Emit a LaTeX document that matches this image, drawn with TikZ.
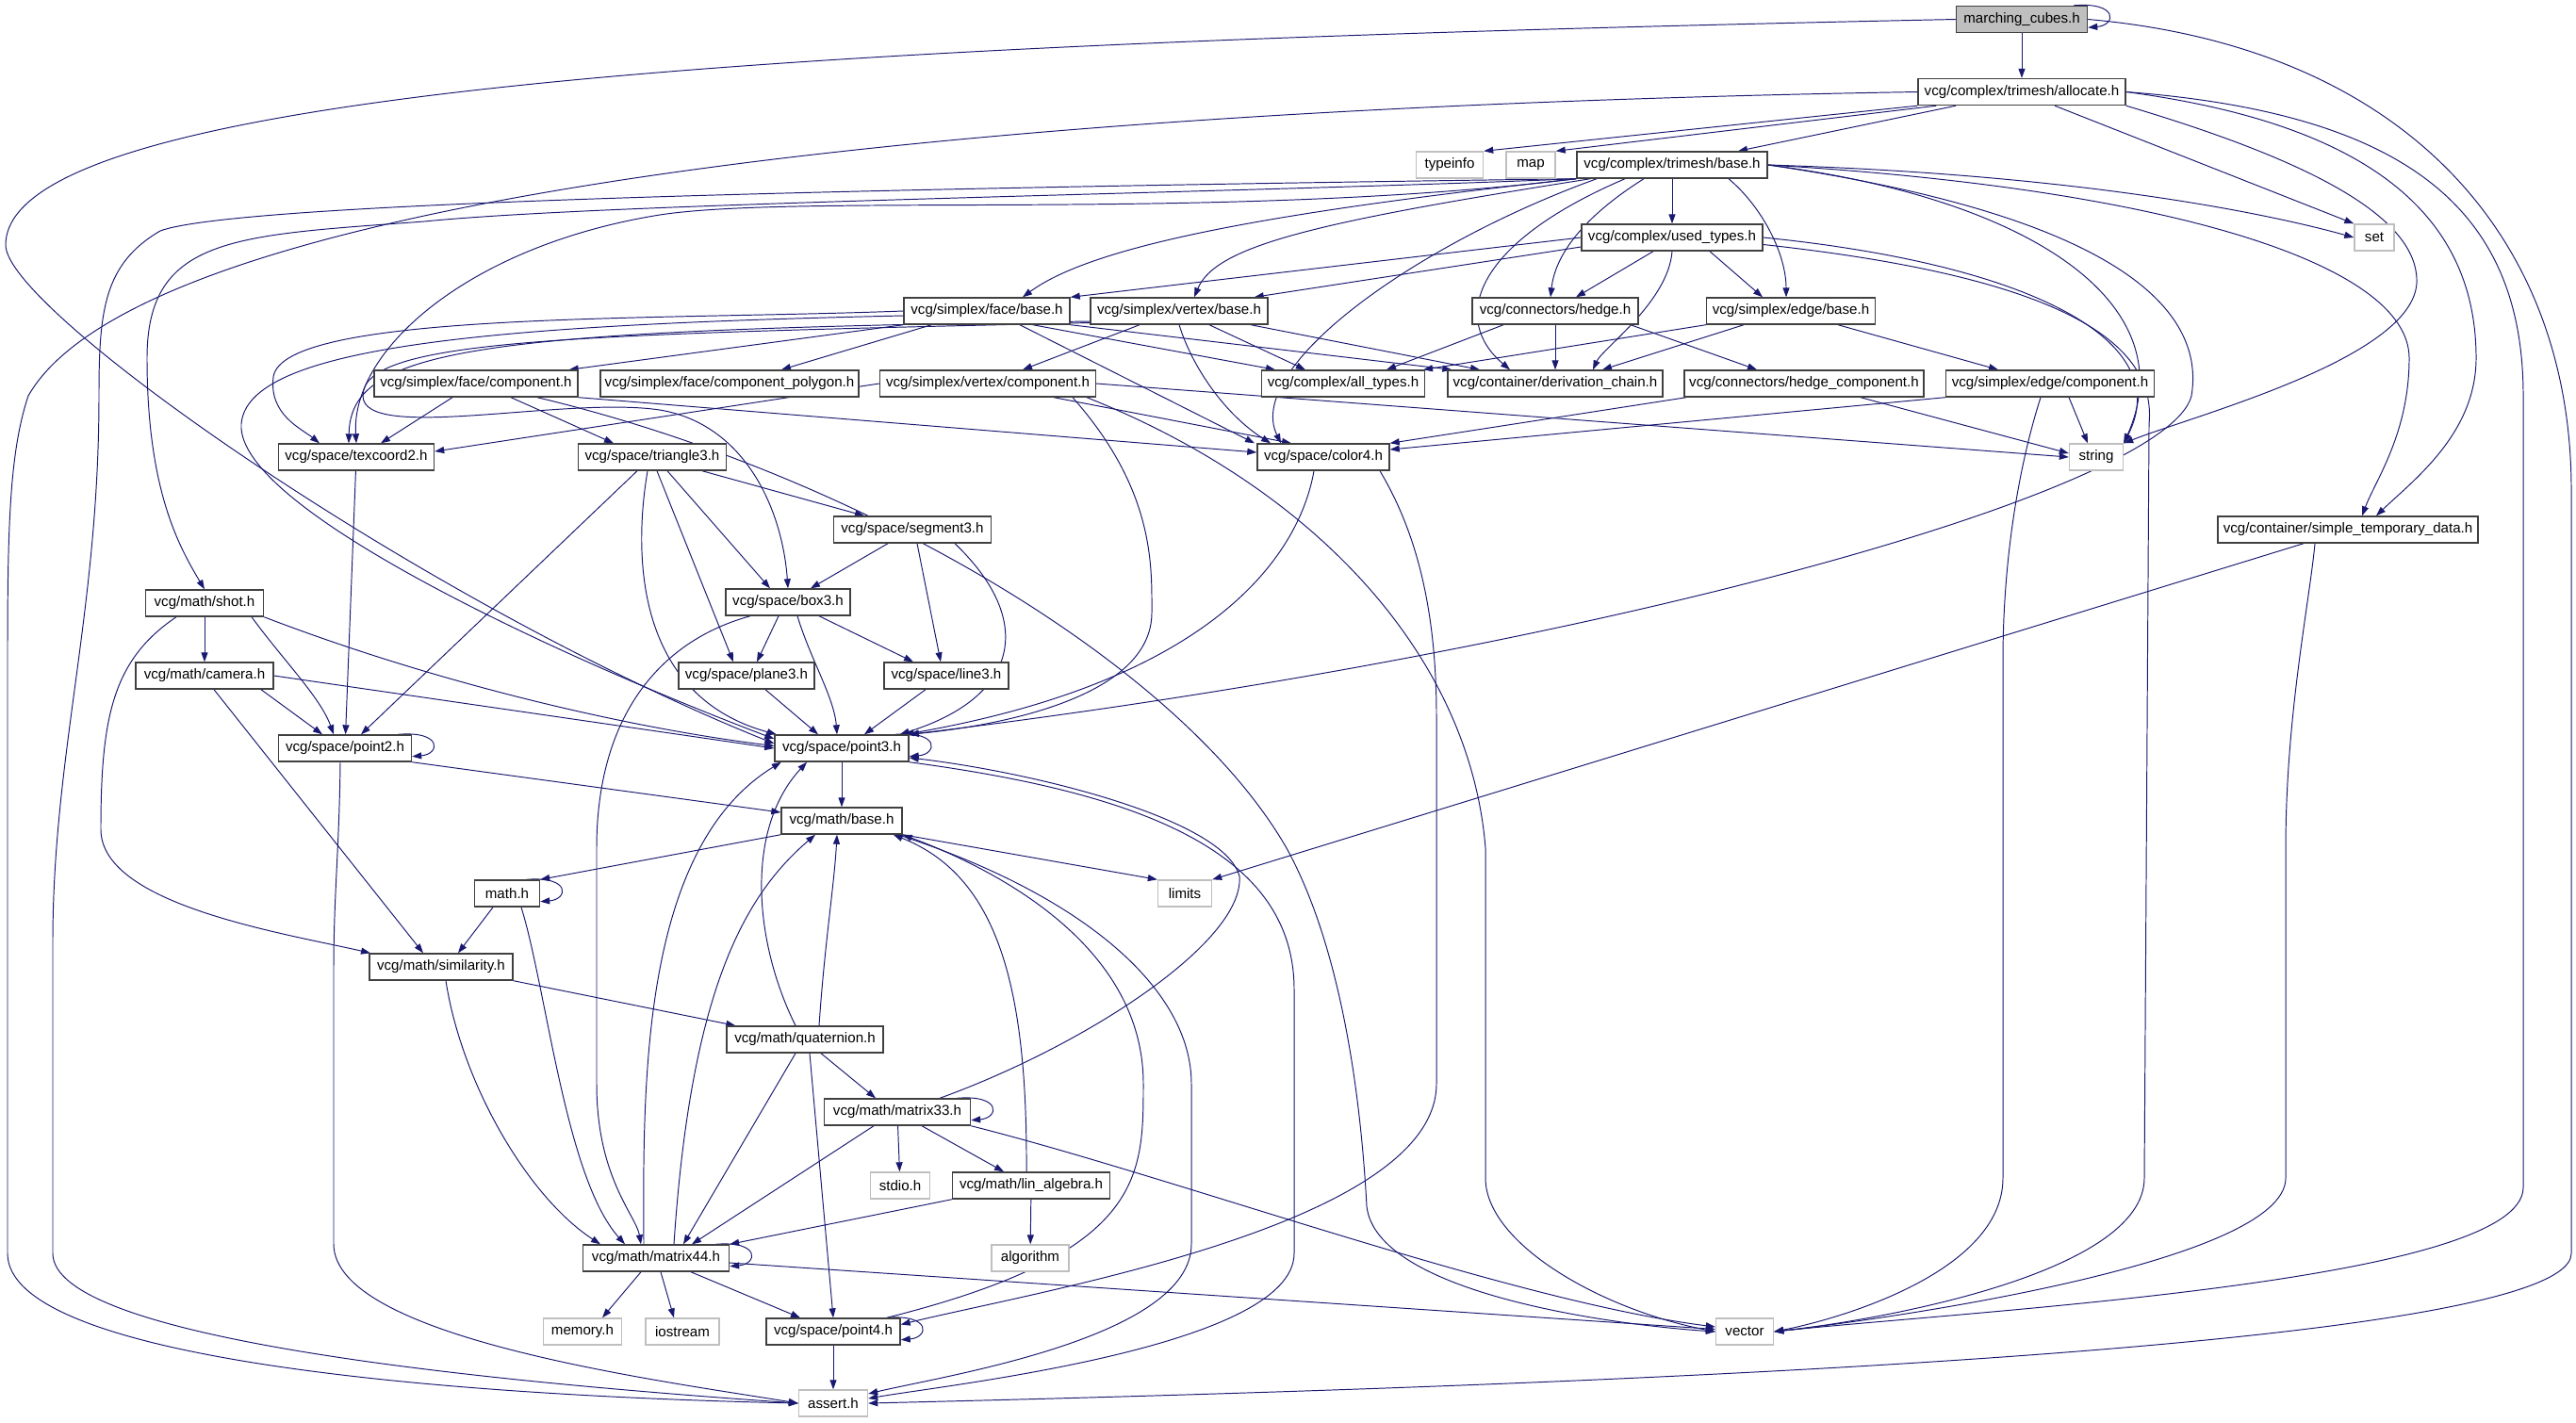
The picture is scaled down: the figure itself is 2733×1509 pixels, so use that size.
\documentclass[tikz,border=0pt]{standalone}
\usepackage{fontspec}
\setmainfont{Liberation Sans}
\usetikzlibrary{arrows.meta,backgrounds,calc}
\definecolor{edgenavy}{HTML}{191970}
\definecolor{boxgray}{HTML}{404040}
\definecolor{sysgray}{HTML}{BFBFBF}
\newcommand{\selfloop}[1]{\draw[inc] ([xshift=-0.3cm]#1.north east) .. controls +(0.95cm,0.08cm) and +(0.6cm,0.05cm) .. ([yshift=0.12cm]#1.south east);}

\begin{document}
\begin{tikzpicture}[x=0.02cm, y=-0.02cm,
  every node/.style={font=\fontsize{8.6}{10}\selectfont},
  hdr/.style={draw=boxgray, line width=0.8pt, fill=white, minimum height=0.56cm, inner sep=1pt},
  sys/.style={hdr, draw=sysgray},
  root/.style={hdr, fill=sysgray},
  bw/.style={minimum width=#1*0.02cm},
  inc/.style={draw=edgenavy, line width=0.55pt, -{Triangle[length=0.2cm,width=0.14cm]}}
]
  \useasboundingbox (0,0) rectangle (2733,1509);

  % Headers, top rows
  \node[root, bw=139] (mcubes)    at (2145,20.5) {marching\_cubes.h};
  \node[hdr, bw=220]  (alloc)     at (2145,97.5) {vcg/complex/trimesh/allocate.h};
  \node[sys, bw=71]   (typeinfo)  at (1538,175)  {typeinfo};
  \node[sys, bw=52]   (map)       at (1624,175)  {map};
  \node[hdr, bw=202]  (tribase)   at (1774,175)  {vcg/complex/trimesh/base.h};
  \node[hdr, bw=192]  (usedtypes) at (1774,252)  {vcg/complex/used\_types.h};
  \node[sys, bw=42]   (setstd)    at (2519,252)  {set};
  \node[hdr, bw=176]  (facebase)  at (1047,330)  {vcg/simplex/face/base.h};
  \node[hdr, bw=188]  (vertbase)  at (1251,330)  {vcg/simplex/vertex/base.h};
  \node[hdr, bw=176]  (hedge)     at (1650,330)  {vcg/connectors/hedge.h};
  \node[hdr, bw=179]  (edgebase)  at (1900,330)  {vcg/simplex/edge/base.h};

  % Components
  \node[hdr, bw=216]  (facecomp)  at (505,407)   {vcg/simplex/face/component.h};
  \node[hdr, bw=274]  (facepoly)  at (774,407)   {vcg/simplex/face/component\_polygon.h};
  \node[hdr, bw=229]  (vertcomp)  at (1048,407)  {vcg/simplex/vertex/component.h};
  \node[hdr, bw=173]  (alltypes)  at (1425,407)  {vcg/complex/all\_types.h};
  \node[hdr, bw=228]  (derivchain) at (1650,407) {vcg/container/derivation\_chain.h};
  \node[hdr, bw=254]  (hedgecomp) at (1914,407)  {vcg/connectors/hedge\_component.h};
  \node[hdr, bw=221]  (edgecomp)  at (2175,407)  {vcg/simplex/edge/component.h};

  % Space
  \node[hdr, bw=165]  (texcoord)  at (378,485)   {vcg/space/texcoord2.h};
  \node[hdr, bw=157]  (triangle)  at (692,485)   {vcg/space/triangle3.h};
  \node[hdr, bw=140]  (color)     at (1404,485)  {vcg/space/color4.h};
  \node[sys, bw=57]   (strstd)    at (2224,485)  {string};
  \node[hdr, bw=167]  (segment)   at (968,562)   {vcg/space/segment3.h};
  \node[hdr, bw=276]  (simpletmp) at (2491,562)  {vcg/container/simple\_temporary\_data.h};
  \node[hdr, bw=125]  (shot)      at (217,640)   {vcg/math/shot.h};
  \node[hdr, bw=132]  (box)       at (836,639)   {vcg/space/box3.h};
  \node[hdr, bw=146]  (camera)    at (217,717)   {vcg/math/camera.h};
  \node[hdr, bw=144]  (plane)     at (792,717)   {vcg/space/plane3.h};
  \node[hdr, bw=132]  (line)      at (1004,717)  {vcg/space/line3.h};
  \node[hdr, bw=141]  (ptwo)      at (366,794)   {vcg/space/point2.h};
  \node[hdr, bw=142]  (pthree)    at (893,794)   {vcg/space/point3.h};

  % Math
  \node[hdr, bw=128]  (mathbase)  at (893,871)   {vcg/math/base.h};
  \node[hdr, bw=69]   (mathh)     at (538,948)   {math.h};
  \node[sys, bw=57]   (limits)    at (1257,948)  {limits};
  \node[hdr, bw=152]  (simil)     at (468,1026)  {vcg/math/similarity.h};
  \node[hdr, bw=166]  (quat)      at (854,1103)  {vcg/math/quaternion.h};
  \node[hdr, bw=155]  (mthree)    at (952,1180)  {vcg/math/matrix33.h};
  \node[sys, bw=63]   (stdio)     at (955,1258)  {stdio.h};
  \node[hdr, bw=167]  (linalg)    at (1094,1258) {vcg/math/lin\_algebra.h};
  \node[hdr, bw=155]  (mfour)     at (696,1335)  {vcg/math/matrix44.h};
  \node[sys, bw=82]   (algorithm) at (1093,1335) {algorithm};
  \node[sys, bw=83]   (memory)    at (618,1413)  {memory.h};
  \node[sys, bw=78]   (iostream)  at (724,1413)  {iostream};
  \node[hdr, bw=142]  (pfour)     at (884,1413)  {vcg/space/point4.h};
  \node[sys, bw=61]   (vector)    at (1851,1413) {vector};
  \node[sys, bw=73]   (assert)    at (884,1489)  {assert.h};

  \begin{scope}[on background layer]
  \fill[white] (0,0) rectangle (2733,1509);
  % marching_cubes.h
  \selfloop{mcubes}
  \draw[inc] (mcubes) -- (alloc);
  \draw[inc] (mcubes.west) .. controls (900,45) and (6,90) .. (6,260) .. controls (6,330) and (450,640) .. ([yshift=0.1cm]pthree.west);
  \draw[inc] (mcubes.east) .. controls (2550,50) and (2728,250) .. (2728,520) -- (2728,1330) .. controls (2728,1440) and (1500,1475) .. (assert.east);

  % allocate.h
  \draw[inc] (alloc.south west) -- (typeinfo.north east);
  \draw[inc] ([xshift=0.4cm]alloc.south west) -- (map.north east);
  \draw[inc] ([xshift=-1.4cm]alloc.south) -- ([xshift=1.4cm]tribase.north);
  \draw[inc] ([xshift=0.7cm]alloc.south) -- (setstd.north west);
  \draw[inc] (alloc.south east) .. controls (2450,170) and (2566,230) .. (2564,300) .. controls (2560,380) and (2330,440) .. (strstd.north east);
  \draw[inc] (alloc.east) .. controls (2500,130) and (2627,220) .. (2627,380) .. controls (2627,460) and (2560,510) .. ([xshift=0.6cm]simpletmp.north);
  \draw[inc] (alloc.east) .. controls (2550,120) and (2677,220) .. (2677,420) -- (2677,1260) .. controls (2677,1360) and (2100,1390) .. (vector.east);
  \draw[inc] (alloc.west) .. controls (1000,115) and (150,210) .. (30,420) .. controls (10,480) and (8,560) .. (8,700) -- (8,1330) .. controls (8,1440) and (450,1480) .. (assert.west);

  % trimesh/base.h
  \draw[inc] (tribase) -- (usedtypes);
  \draw[inc] (tribase.south west) .. controls (1350,225) and (1160,260) .. ([xshift=0.76cm]facebase.north);
  \draw[inc] ([xshift=0.3cm]tribase.south west) .. controls (1400,235) and (1290,260) .. ([xshift=0.32cm]vertbase.north);
  \draw[inc] ([xshift=-0.6cm]tribase.south) .. controls (1680,230) and (1650,270) .. ([xshift=-0.1cm]hedge.north);
  \draw[inc] ([xshift=-1cm]tribase.south) .. controls (1560,260) and (1540,340) .. ([xshift=-0.96cm]derivchain.north);
  \draw[inc] ([xshift=1.2cm]tribase.south) .. controls (1870,220) and (1895,270) .. ([xshift=-0.1cm]edgebase.north);
  \draw[inc] ([xshift=-1.6cm]tribase.south) .. controls (1500,260) and (1320,390) .. ([xshift=-0.9cm]color.north);
  \draw[inc] (tribase.east) .. controls (2250,230) and (2340,330) .. (2325,420) .. controls (2300,520) and (1700,690) .. (pthree.north east);
  \draw[inc] (tribase.east) .. controls (2200,185) and (2400,225) .. (setstd.west);
  \draw[inc] (tribase.east) .. controls (2150,210) and (2320,320) .. (strstd.north east);
  \draw[inc] (tribase.east) .. controls (2300,200) and (2556,280) .. (2556,380) .. controls (2556,460) and (2520,510) .. ([xshift=0.3cm]simpletmp.north);
  \draw[inc] (tribase.south west) .. controls (1300,205) and (650,215) .. (450,235) .. controls (250,250) and (156,250) .. (156,380) .. controls (156,520) and (190,580) .. (shot.north);
  \draw[inc] (tribase.south west) .. controls (900,200) and (250,215) .. (170,245) .. controls (110,280) and (105,330) .. (105,420) .. controls (105,650) and (56,800) .. (56,1000) -- (56,1330) .. controls (56,1420) and (500,1465) .. (assert.west);
  \draw[inc] (tribase.south west) .. controls (1300,235) and (850,205) .. (700,228) .. controls (500,260) and (372,370) .. (texcoord.north);

  % used_types.h
  \draw[inc] (usedtypes.west) -- (facebase.north east);
  \draw[inc] ([yshift=-0.2cm]usedtypes.west) -- ([xshift=-0.3cm]vertbase.north east);
  \draw[inc] ([xshift=-0.4cm]usedtypes.south) -- ([xshift=0.44cm]hedge.north);
  \draw[inc] (usedtypes.south) .. controls (1770,320) and (1700,370) .. ([xshift=0.8cm]derivchain.north);
  \draw[inc] ([xshift=0.8cm]usedtypes.south) -- ([xshift=-0.6cm]edgebase.north);
  \draw[inc] (usedtypes.east) .. controls (2150,280) and (2310,360) .. (strstd.north east);
  \draw[inc] ([yshift=-0.15cm]usedtypes.east) .. controls (2150,290) and (2290,350) .. (2280,450) -- (2275,1250) .. controls (2275,1350) and (2000,1400) .. (vector.east);

  % hedge.h, edge/base.h
  \draw[inc] ([xshift=-1.1cm]hedge.south) -- ([xshift=0.92cm]alltypes.north);
  \draw[inc] (hedge) -- (derivchain);
  \draw[inc] ([xshift=1.6cm]hedge.south) -- ([xshift=-1.0cm]hedgecomp.north);
  \draw[inc] (edgebase.south west) -- ([xshift=1.7cm]alltypes.north);
  \draw[inc] ([xshift=-1cm]edgebase.south) -- ([xshift=1cm]derivchain.north);
  \draw[inc] ([xshift=1cm]edgebase.south) -- ([xshift=-1.1cm]edgecomp.north);

  % face/base.h
  \draw[inc] (facebase.south west) -- ([xshift=-0.2cm]facecomp.north east);
  \draw[inc] ([xshift=0.6cm]facebase.south west) -- ([xshift=1.1cm]facepoly.north);
  \draw[inc] (facebase.west) .. controls (700,340) and (300,330) .. (290,400) .. controls (285,440) and (320,455) .. ([xshift=-0.78cm]texcoord.north);
  \draw[inc] ([yshift=-0.1cm]facebase.west) .. controls (500,345) and (262,370) .. (256,450) .. controls (250,540) and (600,700) .. ([yshift=0.2cm]pthree.west);
  \draw[inc] ([xshift=-0.8cm]facebase.south east) -- ([xshift=-1.44cm]alltypes.north);
  \draw[inc] (facebase.south east) -- ([xshift=0.1cm]derivchain.north west);
  \draw[inc] ([xshift=0.7cm]facebase.south) -- ([xshift=-1.46cm]color.north);

  % vertex/base.h
  \draw[inc] ([xshift=-0.84cm]vertbase.south) -- ([xshift=0.74cm]vertcomp.north);
  \draw[inc] ([xshift=0.64cm]vertbase.south) -- ([xshift=-0.8cm]alltypes.north);
  \draw[inc] ([xshift=1.52cm]vertbase.south) -- ([xshift=-1.6cm]derivchain.north);
  \draw[inc] (vertbase.south) .. controls (1265,390) and (1300,440) .. ([xshift=-1.12cm]color.north);
  \draw[inc] ([yshift=-0.22cm]vertbase.west) .. controls (500,350) and (372,370) .. ([xshift=-0.16cm]texcoord.north);
  \draw[inc] ([yshift=-0.25cm]vertbase.west) .. controls (600,355) and (385,360) .. (385,420) .. controls (385,470) and (600,420) .. (700,435) .. controls (790,450) and (830,540) .. (box.north);

  % vertex/component.h
  \draw[inc] (vertcomp.west) -- ([yshift=0.12cm]texcoord.east);
  \draw[inc] ([xshift=1.4cm]vertcomp.south) -- ([xshift=-0.68cm]color.north);
  \draw[inc] ([xshift=1.8cm]vertcomp.south) .. controls (1225,520) and (1222,600) .. (1222,650) .. controls (1222,740) and (1060,770) .. (pthree.north east);
  \draw[inc] ([xshift=2.1cm]vertcomp.south) .. controls (1400,520) and (1560,700) .. (1576,900) -- (1576,1250) .. controls (1576,1320) and (1700,1390) .. (vector.west);
  \draw[inc] (vertcomp.east) -- (strstd.west);

  % face/component.h
  \draw[inc] ([xshift=-0.5cm]facecomp.south) -- ([xshift=0.52cm]texcoord.north);
  \draw[inc] ([xshift=0.74cm]facecomp.south) -- ([xshift=-0.82cm]triangle.north);
  \draw[inc] (facecomp.south east) -- ([yshift=0.1cm]color.west);
  \draw[inc] ([xshift=1.3cm]facecomp.south) .. controls (900,500) and (1250,700) .. (1365,900) .. controls (1420,1000) and (1443,1150) .. (1450,1280) .. controls (1460,1370) and (1700,1405) .. (vector.west);

  % triangle3.h, segment3.h, box3.h
  \draw[inc] ([xshift=-0.32cm]triangle.south) -- ([xshift=0.34cm]ptwo.north);
  \draw[inc] ([xshift=-0.1cm]triangle.south) .. controls (670,600) and (680,740) .. ([xshift=0.05cm]pthree.north west);
  \draw[inc] ([xshift=0.1cm]triangle.south) -- ([xshift=-0.28cm]plane.north);
  \draw[inc] ([xshift=0.32cm]triangle.south) -- ([xshift=-0.38cm]box.north);
  \draw[inc] ([xshift=1.06cm]triangle.south) -- ([xshift=-1.02cm]segment.north);
  \draw[inc] ([xshift=-0.52cm]segment.south) -- ([xshift=0.48cm]box.north);
  \draw[inc] ([xshift=0.1cm]segment.south) -- ([xshift=-0.12cm]line.north);
  \draw[inc] ([xshift=0.9cm]segment.south) .. controls (1100,660) and (1080,740) .. ([xshift=-0.2cm]pthree.north east);
  \draw[inc] ([xshift=-0.2cm]box.south) -- ([xshift=0.22cm]plane.north);
  \draw[inc] ([xshift=0.66cm]box.south) -- ([xshift=-0.7cm]line.north);
  \draw[inc] ([xshift=0.2cm]box.south) .. controls (860,700) and (885,740) .. ([xshift=-0.1cm]pthree.north);
  \draw[inc] ([xshift=-0.8cm]box.south) .. controls (700,680) and (633,760) .. (633,900) -- (633,1150) .. controls (633,1250) and (675,1290) .. ([xshift=-0.32cm]mfour.north);
  \draw[inc] ([xshift=0.4cm]plane.south) -- ([xshift=-0.5cm]pthree.north);
  \draw[inc] ([xshift=-0.44cm]line.south) -- ([xshift=0.48cm]pthree.north);

  % texcoord2.h, shot.h, camera.h
  \draw[inc] (texcoord) -- (ptwo);
  \draw[inc] (shot) -- (camera);
  \draw[inc] ([xshift=1cm]shot.south) .. controls (300,700) and (340,740) .. ([xshift=-0.24cm]ptwo.north);
  \draw[inc] (shot.south east) .. controls (450,720) and (650,770) .. ([yshift=0.05cm]pthree.west);
  \draw[inc] ([xshift=-0.6cm]shot.south) .. controls (120,700) and (107,760) .. (107,880) .. controls (107,960) and (300,990) .. ([xshift=-1.5cm]simil.north);
  \draw[inc] ([xshift=1.2cm]camera.south) -- ([xshift=-0.48cm]ptwo.north);
  \draw[inc] (camera.east) -- (pthree.west);
  \draw[inc] ([xshift=0.2cm]camera.south) -- ([xshift=-0.38cm]simil.north);

  % point2.h, color4.h
  \selfloop{ptwo}
  \draw[inc] (ptwo.south east) -- ([yshift=0.18cm]mathbase.west);
  \draw[inc] ([xshift=-0.1cm]ptwo.south) .. controls (360,900) and (354,950) .. (354,1030) -- (354,1320) .. controls (354,1420) and (700,1465) .. (assert.west);
  \draw[inc] ([xshift=-0.2cm]color.south) .. controls (1380,580) and (1300,720) .. ([xshift=-0.1cm]pthree.north east);
  \draw[inc] ([xshift=1.2cm]color.south) .. controls (1500,560) and (1524,640) .. (1524,760) -- (1524,1150) .. controls (1524,1300) and (1100,1370) .. ([yshift=0.15cm]pfour.east);

  % hedge_component.h, edge/component.h, simple_temporary_data.h
  \draw[inc] ([xshift=-2.5cm]hedgecomp.south) -- (color.north east);
  \draw[inc] ([xshift=1.2cm]hedgecomp.south) -- ([yshift=0.08cm]strstd.west);
  \draw[inc] (edgecomp.south west) -- ([yshift=0.16cm]color.east);
  \draw[inc] ([xshift=0.4cm]edgecomp.south) -- ([xshift=-0.18cm]strstd.north);
  \draw[inc] ([xshift=-0.2cm]edgecomp.south) .. controls (2140,500) and (2125,600) .. (2125,700) -- (2125,1250) .. controls (2125,1350) and (1950,1400) .. (vector.east);
  \draw[inc] ([xshift=-0.94cm]simpletmp.south) -- (limits.north east);
  \draw[inc] ([xshift=-0.7cm]simpletmp.south) .. controls (2450,640) and (2425,760) .. (2425,900) -- (2425,1250) .. controls (2425,1340) and (2000,1400) .. (vector.east);

  % point3.h, math/base.h, math.h
  \selfloop{pthree}
  \draw[inc] (pthree) -- (mathbase);
  \draw[inc] (pthree.south east) .. controls (1200,840) and (1373,900) .. (1373,1050) -- (1373,1330) .. controls (1373,1430) and (1000,1470) .. ([yshift=0.1cm]assert.east);
  \draw[inc] (mathbase.south west) -- (mathh.north east);
  \draw[inc] (mathbase.south east) -- (limits.north west);
  \draw[inc] ([xshift=-0.1cm]mathbase.south east) .. controls (1150,950) and (1264,1050) .. (1264,1150) -- (1264,1320) .. controls (1264,1420) and (1000,1460) .. ([yshift=0.2cm]assert.east);
  \selfloop{mathh}
  \draw[inc] ([xshift=-0.3cm]mathh.south) -- ([xshift=0.36cm]simil.north);
  \draw[inc] ([xshift=0.3cm]mathh.south) .. controls (580,1050) and (600,1250) .. ([xshift=-0.66cm]mfour.north);

  % similarity.h, quaternion.h
  \draw[inc] (simil.south east) -- ([xshift=0.2cm]quat.north west);
  \draw[inc] ([xshift=0.1cm]simil.south) .. controls (490,1150) and (560,1270) .. ([xshift=-1.18cm]mfour.north);
  \draw[inc] ([xshift=-0.2cm]quat.north) .. controls (800,1000) and (790,880) .. ([xshift=-0.74cm]pthree.south);
  \draw[inc] ([xshift=0.3cm]quat.north) .. controls (875,1000) and (885,940) .. ([xshift=-0.1cm]mathbase.south);
  \draw[inc] ([xshift=0.34cm]quat.south) -- ([xshift=-0.46cm]mthree.north);
  \draw[inc] ([xshift=-0.2cm]quat.south) -- ([xshift=0.58cm]mfour.north);
  \draw[inc] ([xshift=0.1cm]quat.south) -- (pfour.north);

  % matrix33.h, lin_algebra.h
  \selfloop{mthree}
  \draw[inc] ([xshift=0.9cm]mthree.north) .. controls (1150,1110) and (1320,1000) .. (1315,930) .. controls (1300,870) and (1100,820) .. ([yshift=-0.2cm]pthree.east);
  \draw[inc] (mthree) -- (stdio);
  \draw[inc] ([xshift=0.52cm]mthree.south) -- ([xshift=-0.58cm]linalg.north);
  \draw[inc] ([xshift=-0.5cm]mthree.south) -- ([xshift=0.76cm]mfour.north);
  \draw[inc] (mthree.south east) .. controls (1250,1250) and (1600,1380) .. ([yshift=0.1cm]vector.west);
  \draw[inc] ([xshift=-0.1cm]linalg.north) .. controls (1090,1050) and (1060,930) .. ([xshift=-0.2cm]mathbase.south east);
  \draw[inc] (linalg) -- (algorithm);
  \draw[inc] (linalg.south west) -- (mfour.north east);

  % matrix44.h, point4.h
  \selfloop{mfour}
  \draw[inc] ([xshift=-0.26cm]mfour.north) .. controls (682,1150) and (680,900) .. ([xshift=0.15cm]pthree.south west);
  \draw[inc] ([xshift=0.38cm]mfour.north) .. controls (733,1050) and (790,950) .. ([xshift=-0.56cm]mathbase.south);
  \draw[inc] ([xshift=-0.32cm]mfour.south) -- ([xshift=0.42cm]memory.north);
  \draw[inc] ([xshift=0.1cm]mfour.south) -- ([xshift=-0.18cm]iostream.north);
  \draw[inc] ([xshift=0.74cm]mfour.south) -- ([xshift=-0.7cm]pfour.north);
  \draw[inc] ([yshift=-0.1cm]mfour.east) -- ([yshift=0.05cm]vector.west);
  \selfloop{pfour}
  \draw[inc] (pfour) -- (assert);
  \draw[inc] ([xshift=-0.3cm]pfour.north east) .. controls (1213,1330) and (1213,1250) .. (1213,1150) .. controls (1213,1000) and (1050,920) .. (mathbase.south east);
  \end{scope}
\end{tikzpicture}
\end{document}
